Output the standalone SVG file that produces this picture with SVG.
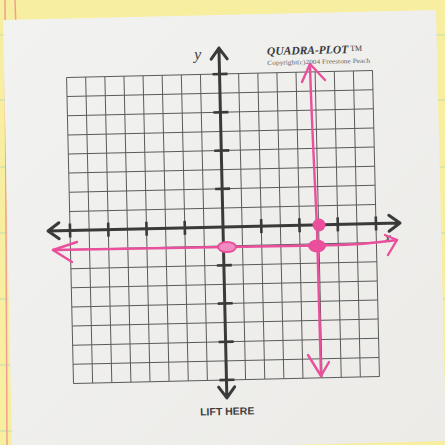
<svg xmlns="http://www.w3.org/2000/svg" width="445" height="445" viewBox="0 0 445 445">
<defs>
<style>
.grid line{stroke:#5a5a5a;stroke-width:1}
.axis{stroke:#3a3a3a;stroke-width:3;fill:none;stroke-linecap:round;stroke-linejoin:round}
.tick{stroke:#3a3a3a;stroke-width:2.6}
.pink{stroke:#ea4f9c;stroke-width:2.4;fill:none;stroke-linecap:round;stroke-linejoin:round}
.rule{stroke:#a9d4b8;stroke-width:1.2;opacity:0.7}
</style>
<linearGradient id="paper" x1="0" y1="0" x2="1" y2="1">
<stop offset="0" stop-color="#f2f2f0"/>
<stop offset="1" stop-color="#ecebe8"/>
</linearGradient>
</defs>
<g id="pad">
<rect x="0" y="0" width="445" height="445" fill="#f8ee9f"/>
<line class="rule" x1="0" y1="35" x2="445" y2="35"/>
<line class="rule" x1="0" y1="100" x2="445" y2="100"/>
<line class="rule" x1="0" y1="167" x2="445" y2="167"/>
<line class="rule" x1="0" y1="233" x2="445" y2="233"/>
<line class="rule" x1="0" y1="299" x2="445" y2="299"/>
<line class="rule" x1="0" y1="365" x2="445" y2="365"/>
<line class="rule" x1="0" y1="431" x2="445" y2="431"/>
<line x1="5" y1="0" x2="7" y2="445" stroke="#f0a090" stroke-width="1.5"/>
<line x1="15" y1="0" x2="16" y2="30" stroke="#f0a090" stroke-width="1.5"/>
</g>
<g id="note">
<polygon points="3,20 436,10 446,441 12,452" fill="url(#paper)"/>
</g>
<g id="sheet" transform="rotate(-1.3 223 227)">
<g id="grid" class="grid">
<line x1="70" y1="74" x2="70" y2="380"/>
<line x1="89.1" y1="74" x2="89.1" y2="380"/>
<line x1="108.3" y1="74" x2="108.3" y2="380"/>
<line x1="127.4" y1="74" x2="127.4" y2="380"/>
<line x1="146.5" y1="74" x2="146.5" y2="380"/>
<line x1="165.6" y1="74" x2="165.6" y2="380"/>
<line x1="184.8" y1="74" x2="184.8" y2="380"/>
<line x1="203.9" y1="74" x2="203.9" y2="380"/>
<line x1="242.1" y1="74" x2="242.1" y2="380"/>
<line x1="261.3" y1="74" x2="261.3" y2="380"/>
<line x1="280.4" y1="74" x2="280.4" y2="380"/>
<line x1="299.5" y1="74" x2="299.5" y2="380"/>
<line x1="318.6" y1="74" x2="318.6" y2="380"/>
<line x1="337.8" y1="74" x2="337.8" y2="380"/>
<line x1="356.9" y1="74" x2="356.9" y2="380"/>
<line x1="376" y1="74" x2="376" y2="380"/>
<line x1="70" y1="74" x2="376" y2="74"/>
<line x1="70" y1="93.1" x2="376" y2="93.1"/>
<line x1="70" y1="112.3" x2="376" y2="112.3"/>
<line x1="70" y1="131.4" x2="376" y2="131.4"/>
<line x1="70" y1="150.5" x2="376" y2="150.5"/>
<line x1="70" y1="169.6" x2="376" y2="169.6"/>
<line x1="70" y1="188.8" x2="376" y2="188.8"/>
<line x1="70" y1="207.9" x2="376" y2="207.9"/>
<line x1="70" y1="246.1" x2="376" y2="246.1"/>
<line x1="70" y1="265.3" x2="376" y2="265.3"/>
<line x1="70" y1="284.4" x2="376" y2="284.4"/>
<line x1="70" y1="303.5" x2="376" y2="303.5"/>
<line x1="70" y1="322.6" x2="376" y2="322.6"/>
<line x1="70" y1="341.8" x2="376" y2="341.8"/>
<line x1="70" y1="360.9" x2="376" y2="360.9"/>
<line x1="70" y1="380" x2="376" y2="380"/>
</g>
<g id="axes">
<path class="axis" d="M48,227 H400 M389,219 L400,227 L389,235 M59,219 L48,227 L59,235"/>
<path class="axis" d="M223,48 V398 M215,59 L223,48 L231,59 M215,387 L223,398 L231,387"/>
<g class="tick">
<line x1="70" y1="220" x2="70" y2="234"/>
<line x1="108.3" y1="220" x2="108.3" y2="234"/>
<line x1="146.5" y1="220" x2="146.5" y2="234"/>
<line x1="184.8" y1="220" x2="184.8" y2="234"/>
<line x1="261.3" y1="220" x2="261.3" y2="234"/>
<line x1="299.5" y1="220" x2="299.5" y2="234"/>
<line x1="337.8" y1="220" x2="337.8" y2="234"/>
<line x1="376" y1="220" x2="376" y2="234"/>
<line x1="216" y1="74" x2="231" y2="74"/>
<line x1="216" y1="112.3" x2="231" y2="112.3"/>
<line x1="216" y1="150.5" x2="231" y2="150.5"/>
<line x1="216" y1="188.8" x2="231" y2="188.8"/>
<line x1="216" y1="265.3" x2="231" y2="265.3"/>
<line x1="216" y1="303.5" x2="231" y2="303.5"/>
<line x1="216" y1="341.8" x2="231" y2="341.8"/>
<line x1="216" y1="380" x2="231" y2="380"/>
</g>
</g>
<g id="labels" fill="#444">
<text x="198" y="59" font-family="Liberation Serif, serif" font-style="italic" font-size="16">y</text>
<text x="384" y="246" font-family="Liberation Serif, serif" font-style="italic" font-size="15">x</text>
<text x="271" y="56" font-family="Liberation Serif, serif" font-style="italic" font-weight="bold" font-size="11.5" fill="#3a3a3a">QUADRA-PLOT<tspan font-style="normal" font-weight="normal" font-size="8" dx="2" dy="-2">TM</tspan></text>
<text x="271" y="66" font-family="Liberation Serif, serif" font-size="6.4" fill="#666" textLength="103" lengthAdjust="spacingAndGlyphs">Copyright(c)2004 Freestone Peach</text>
<text x="223" y="415" text-anchor="middle" font-family="Liberation Sans, Arial, sans-serif" font-weight="bold" font-size="10.5" fill="#3e3e3e">LIFT HERE</text>
</g>
</g>
<g id="graph">
<path class="pink" d="M310,64 C311,110 315,180 317,230 C319,290 320,340 321,376"/>
<path class="pink" d="M302,82 L310,64 L325,80"/>
<path class="pink" d="M308,355 L321,376 L329,362"/>
<path class="pink" d="M53,250 C120,249 180,248 226,247 C280,246 330,246 360,244 C375,243 388,241 397,240"/>
<path class="pink" d="M77,242 L53,250 L72,262"/>
<path class="pink" d="M385,235 L397,240 L388,255"/>
<circle cx="319" cy="225" r="6.5" fill="#ea4f9c"/>
<ellipse cx="317" cy="246" rx="9" ry="6.5" fill="#ea4f9c"/>
<ellipse cx="227" cy="247" rx="9" ry="5" fill="#f08cc0" stroke="#ea4f9c" stroke-width="2"/>
</g>
</svg>
